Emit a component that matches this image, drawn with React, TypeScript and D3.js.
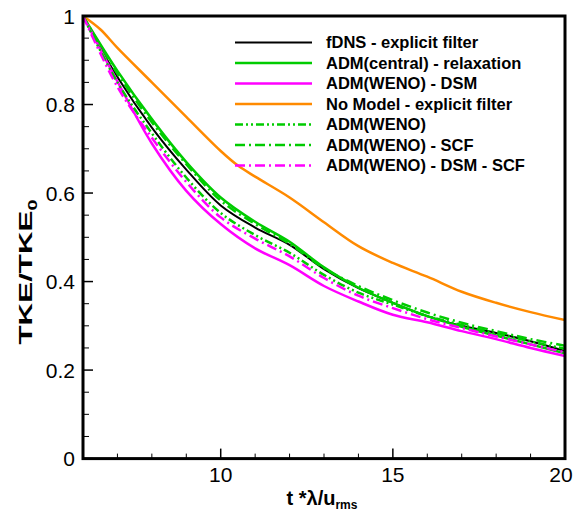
import React from 'react';
import * as d3 from 'd3';

// time samples (t * lambda / u_rms)
const tVals = [6, 7, 8, 9, 10, 11, 12, 13, 14, 15, 16, 17, 18, 19, 20];
const tOrange = [6, 6.5, 7, 8, 9, 10, 10.5, 11, 12, 13, 14, 15, 16, 17, 18, 19, 20];

// TKE / TKE0
const fdnsExplicit = [1.0, 0.862, 0.748, 0.653, 0.572, 0.522, 0.483, 0.428, 0.385, 0.352, 0.322, 0.3, 0.284, 0.265, 0.243];
const admCentralRelax = [1.0, 0.876, 0.767, 0.67, 0.59, 0.535, 0.49, 0.432, 0.386, 0.352, 0.322, 0.298, 0.278, 0.258, 0.238];
const admWenoDsm = [1.0, 0.852, 0.712, 0.605, 0.53, 0.475, 0.437, 0.39, 0.355, 0.325, 0.308, 0.288, 0.27, 0.25, 0.232];
const noModelExplicit = [1.0, 0.97, 0.928, 0.85, 0.772, 0.695, 0.662, 0.637, 0.59, 0.534, 0.48, 0.442, 0.411, 0.377, 0.352, 0.331, 0.313];
const admWeno = [1.0, 0.85, 0.735, 0.635, 0.555, 0.505, 0.465, 0.415, 0.375, 0.348, 0.322, 0.302, 0.283, 0.265, 0.248];
const admWenoScf = [1.0, 0.87, 0.76, 0.665, 0.583, 0.53, 0.485, 0.43, 0.39, 0.358, 0.33, 0.307, 0.288, 0.27, 0.255];
const admWenoDsmScf = [1.0, 0.84, 0.725, 0.625, 0.545, 0.497, 0.457, 0.408, 0.368, 0.34, 0.315, 0.295, 0.276, 0.258, 0.24];

const xMajor = [10, 15, 20];
const yMajor = [0, 0.2, 0.4, 0.6, 0.8, 1];
const yMajorLabels = ['0', '0.2', '0.4', '0.6', '0.8', '1'];

const series = [
  { name: 'fDNS - explicit filter', t: tVals, v: fdnsExplicit, color: '#000000', dash: '', w: 2 },
  { name: 'ADM(central) - relaxation', t: tVals, v: admCentralRelax, color: '#00cc00', dash: '', w: 2.5 },
  { name: 'ADM(WENO) - DSM', t: tVals, v: admWenoDsm, color: '#ff00ff', dash: '', w: 2.5 },
  { name: 'No Model - explicit filter', t: tOrange, v: noModelExplicit, color: '#ff8a00', dash: '', w: 2.5 },
  { name: 'ADM(WENO)', t: tVals, v: admWeno, color: '#00cc00', dash: '8,3,2,3,2,3', w: 2.5 },
  { name: 'ADM(WENO) - SCF', t: tVals, v: admWenoScf, color: '#00cc00', dash: '10,4,2,4', w: 2.5 },
  { name: 'ADM(WENO) - DSM - SCF', t: tVals, v: admWenoDsmScf, color: '#ff00ff', dash: '10,4,2,4', w: 2.5 },
];

const W = 575;
const H = 515;
const left = 83;
const right = 565;
const top = 16;
const bottom = 458.6;
const font = '"Liberation Sans", Arial, Helvetica, sans-serif';

export default function App() {
  const x = d3.scaleLinear().domain([6, 20]).range([left, right]);
  const y = d3.scaleLinear().domain([0, 1]).range([bottom, top]);

  const xMinor = d3.range(7, 20, 1).filter(d => d % 5 !== 0);
  const yMinor = d3.range(0.05, 1, 0.05).filter(d => Math.abs(d * 5 - Math.round(d * 5)) > 1e-6);

  const line = (ts: number[], vs: number[]) =>
    d3
      .line<number>()
      .x((_, i) => x(ts[i]))
      .y(d => y(d))
      .curve(d3.curveCatmullRom.alpha(0.5))(vs) || '';

  const legX0 = 235;
  const legX1 = 312;
  const legText = 326;
  const legY0 = 42.5;
  const legStep = 20.5;

  return (
    <svg width={W} height={H} style={{ position: 'absolute', left: 0, top: 0, background: '#fff' }} fontFamily={font}>
      <defs>
        <clipPath id="plot">
          <rect x={left} y={top} width={right - left} height={bottom - top} />
        </clipPath>
      </defs>

      <g clipPath="url(#plot)">
        {series.map(s => (
          <path
            key={s.name}
            d={line(s.t, s.v)}
            fill="none"
            stroke={s.color}
            strokeWidth={s.w}
            strokeDasharray={s.dash || undefined}
          />
        ))}
      </g>

      {/* legend */}
      {series.map((s, i) => {
        const ly = legY0 + i * legStep;
        return (
          <g key={'leg' + s.name}>
            <line x1={legX0} x2={legX1} y1={ly} y2={ly} stroke={s.color} strokeWidth={s.w} strokeDasharray={s.dash || undefined} />
            <text x={legText} y={ly + 5.8} fontSize={16.5} fontWeight="bold" fill="#000">
              {s.name}
            </text>
          </g>
        );
      })}

      {/* ticks, pointing inward */}
      {xMajor.map(d => (
        <line key={'xM' + d} x1={x(d)} x2={x(d)} y1={bottom} y2={bottom - 10} stroke="#000" strokeWidth={1.5} />
      ))}
      {xMinor.map(d => (
        <line key={'xm' + d} x1={x(d)} x2={x(d)} y1={bottom} y2={bottom - 5} stroke="#000" strokeWidth={1} />
      ))}
      {yMajor.map(d => (
        <line key={'yM' + d} x1={left} x2={left + 10} y1={y(d)} y2={y(d)} stroke="#000" strokeWidth={1.5} />
      ))}
      {yMinor.map(d => (
        <line key={'ym' + d} x1={left} x2={left + 6} y1={y(d)} y2={y(d)} stroke="#000" strokeWidth={1} />
      ))}

      {/* frame */}
      <rect x={left} y={top} width={right - left} height={bottom - top} fill="none" stroke="#000" strokeWidth={3} />

      {/* tick labels */}
      {xMajor.map(d => (
        <text key={'xl' + d} x={d === 20 ? x(d) - 4 : x(d)} y={482} fontSize={21} textAnchor="middle" fill="#000">
          {d}
        </text>
      ))}
      {yMajor.map((d, i) => (
        <text key={'yl' + d} x={left - 8} y={y(d)} dy="0.36em" fontSize={21} textAnchor="end" fill="#000">
          {yMajorLabels[i]}
        </text>
      ))}

      {/* axis titles */}
      <text x={322} y={505} fontSize={20} fontWeight="bold" textAnchor="middle" fill="#000">
        t *λ/u
        <tspan fontSize={12} dy={4}>rms</tspan>
      </text>
      <text
        transform="translate(32,272) rotate(-90) scale(1.65,1)"
        fontSize={19}
        fontWeight="bold"
        textAnchor="middle"
        fill="#000"
      >
        TKE/TKE
        <tspan fontSize={12} dy={5}>0</tspan>
      </text>
    </svg>
  );
}
